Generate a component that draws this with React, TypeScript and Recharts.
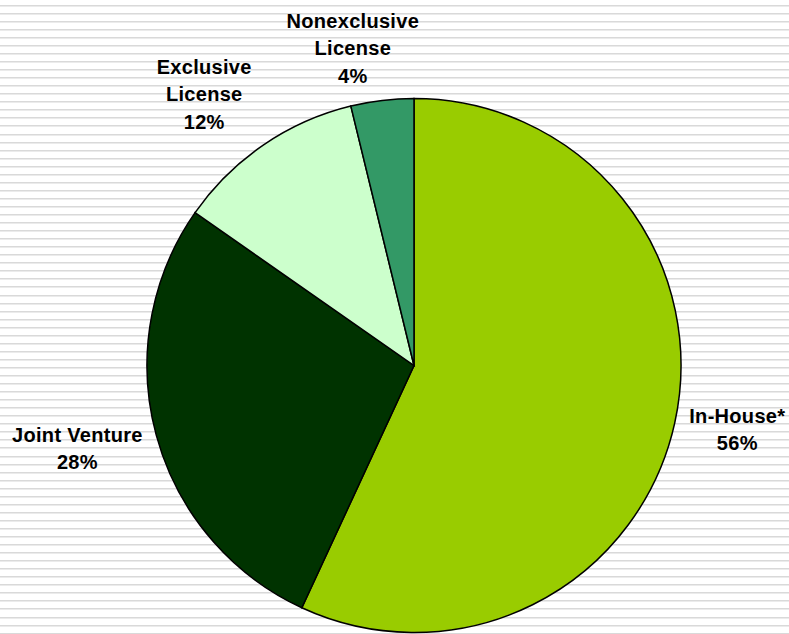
import React from "react";
import { PieChart, Pie, Cell } from "recharts";

const CATEGORIES = ["In-House*", "Joint Venture", "Exclusive License", "Nonexclusive License"];
const VALUES = [56.9, 27.8, 11.5, 3.8];
const PERCENT_LABELS = ["56%", "28%", "12%", "4%"];
const LABEL_LINES = [["In-House*"], ["Joint Venture"], ["Exclusive", "License"], ["Nonexclusive", "License"]];
const COLORS = ["#99CC00", "#003300", "#CCFFCC", "#339966"];

const W = 789;
const H = 634;
const CX = 414;
const CY = 365.5;
const R = 267;
const LABEL_GAP = 62;
const LINE_H = 27.5;
// small per-label layout nudges (label text only)
const NUDGE: [number, number][] = [[2, -7], [-19, -3], [-24, 0], [-22, 9]];

const data = CATEGORIES.map((name, i) => ({ name, value: VALUES[i] }));

const RAD = Math.PI / 180;

function renderLabel(props: any) {
  const { cx, cy, midAngle, outerRadius, index } = props;
  const rr = outerRadius + LABEL_GAP;
  const x = cx + rr * Math.cos(-midAngle * RAD) + NUDGE[index][0];
  const y = cy + rr * Math.sin(-midAngle * RAD) + NUDGE[index][1];
  const lines = [...LABEL_LINES[index], PERCENT_LABELS[index]];
  const n = lines.length;
  const firstBase = y - ((n - 1) * LINE_H) / 2 + 7.3;
  return (
    <text
      key={`lbl-${index}`}
      x={x}
      y={firstBase}
      textAnchor="middle"
      fill="#000"
      style={{ fontFamily: "'Liberation Sans', Arial, sans-serif", fontWeight: 700, fontSize: 20, letterSpacing: 0.3 }}
    >
      {lines.map((t, i) => (
        <tspan key={i} x={x} y={firstBase + i * LINE_H}>
          {t}
        </tspan>
      ))}
    </text>
  );
}

function Background() {
  const rows: React.ReactNode[] = [];
  for (let k = 0; 4.7 + k * 8.05 < H; k++) {
    const y = Math.round(4.7 + k * 8.05);
    rows.push(<rect key={`a${k}`} x={0} y={y} width={W} height={1} fill="#d9d9d9" />);
    rows.push(<rect key={`b${k}`} x={0} y={y + 1} width={W} height={1} fill="#ebebeb" />);
  }
  return (
    <svg width={W} height={H} style={{ position: "absolute", left: 0, top: 0 }}>
      <rect x={0} y={0} width={W} height={H} fill="#ffffff" />
      {rows}
    </svg>
  );
}

export default function App() {
  return (
    <div style={{ position: "relative", width: W, height: H, overflow: "hidden" }}>
      <style>{`body{margin:0;}`}</style>
      <Background />
      <div style={{ position: "absolute", left: 0, top: 0 }}>
        <PieChart width={W} height={H} margin={{ top: 0, right: 0, bottom: 0, left: 0 }}>
          <Pie
            data={data}
            dataKey="value"
            nameKey="name"
            cx={CX}
            cy={CY}
            outerRadius={R}
            startAngle={90}
            endAngle={-270}
            stroke="#000"
            strokeWidth={1.5}
            label={renderLabel}
            labelLine={false}
            isAnimationActive={false}
          >
            {data.map((d, i) => (
              <Cell key={d.name} fill={COLORS[i]} />
            ))}
          </Pie>
        </PieChart>
      </div>
    </div>
  );
}
